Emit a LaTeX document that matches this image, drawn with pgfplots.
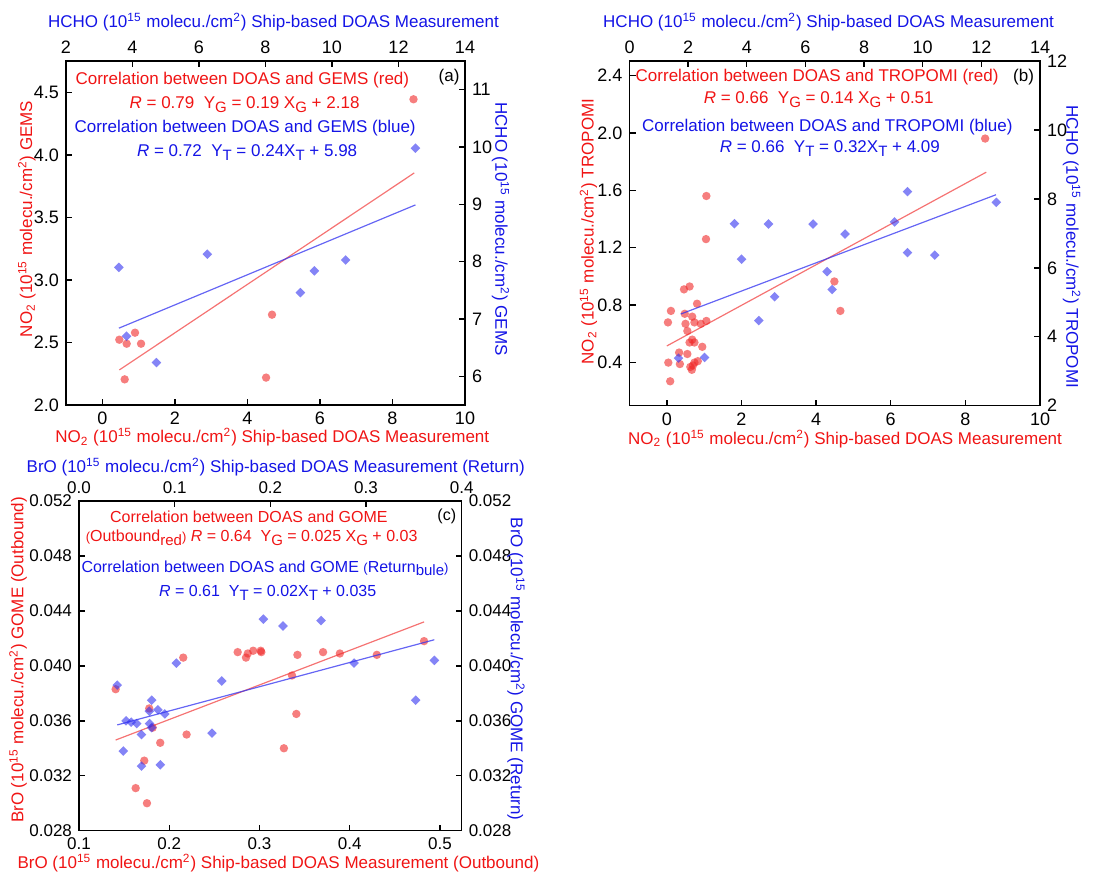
\documentclass[border=0pt]{standalone}
\usepackage{fontspec}
\setmainfont{Liberation Sans}
\usepackage{pgfplots}
\pgfplotsset{compat=1.18}
\definecolor{txtred}{RGB}{240,20,20}
\definecolor{txtblue}{RGB}{20,20,230}
\definecolor{ptred}{RGB}{240,40,40}
\definecolor{ptblue}{RGB}{50,50,240}
\newcommand{\sub}[1]{\raisebox{-0.45ex}{\fontsize{7.5}{8}\selectfont #1}}
\newcommand{\sm}[1]{{\fontsize{6.5}{7}\selectfont #1}}
\newcommand{\uu}{(10\textsuperscript{15} molecu./cm\textsuperscript{2})}

\pgfplotsset{
  base/.style={
    scale only axis,
    font=\fontsize{8.5}{10}\selectfont,
    tick label style={font=\fontsize{9}{10}\selectfont, black},
    every axis label/.append style={inner sep=0pt},
    /pgf/number format/assume math mode=true,
    tick align=inside,
    major tick length=3pt,
    axis line style={line width=0.7pt},
    every tick/.style={black, line width=0.7pt},
    minor tick num=0,
  },
  redpts/.style={only marks, color=ptred, mark=*, mark size=2.1pt,
    mark options={draw opacity=0, fill=ptred, fill opacity=0.6}},
  bluepts/.style={only marks, color=ptblue, mark=square*, mark size=1.7pt,
    mark options={draw opacity=0, fill=ptblue, fill opacity=0.6, rotate=45}},
  redfit/.style={no marks, color=ptred, opacity=0.65, line width=0.6pt},
  bluefit/.style={no marks, color=ptblue, opacity=0.75, line width=0.6pt},
}

\begin{document}
\begin{tikzpicture}
\useasboundingbox (0,0) rectangle (551pt,437pt);

% ---------------- (a) ----------------
\begin{axis}[base, at={(33pt,234.5pt)}, width=199.5pt, height=172pt,
  xmin=-1, xmax=10, ymin=2, ymax=4.75,
  xtick={0,2,...,10}, ytick={2,2.5,3,3.5,4,4.5},
  xtick pos=bottom, ytick pos=left,
  yticklabel style={/pgf/number format/.cd, fixed, fixed zerofill, precision=1},
  xlabel={NO\textsubscript{2} \uu{} Ship-based DOAS Measurement},
  ylabel={NO\textsubscript{2} \uu{} GEMS},
  xlabel style={at={(axis description cs:0.517,-0.094)}, anchor=center, text=txtred},
  ylabel style={at={(axis description cs:-0.098,0.541)}, anchor=center, text=txtred},
]
\addplot[redpts] coordinates {
  (0.47,2.522) (0.673,2.49) (0.903,2.578) (1.069,2.49) (0.618,2.205)
  (4.68,2.722) (4.516,2.219) (8.58,4.444)
};
\addplot[redfit] coordinates {(0.47,2.28) (8.6,3.855)};
\node[txtred] at (rel axis cs:0.442,0.945) {Correlation between DOAS and GEMS (red)};
\node[txtred] at (rel axis cs:0.4475,0.874) {\textit{R} = 0.79\ \ Y\sub{G} = 0.19 X\sub{G} + 2.18};
\node[txtblue] at (rel axis cs:0.449,0.805) {Correlation between DOAS and GEMS (blue)};
\node[txtblue] at (rel axis cs:0.454,0.735) {\textit{R} = 0.72\ \ Y\sub{T} = 0.24X\sub{T} + 5.98};
\node[black] at (rel axis cs:0.96,0.953) {(a)};
\end{axis}
\begin{axis}[base, at={(33pt,234.5pt)}, width=199.5pt, height=172pt,
  xmin=2, xmax=14, ymin=5.5, ymax=11.5,
  xtick={2,4,...,14}, ytick={6,...,11},
  xtick pos=top, ytick pos=right, xticklabel pos=top, yticklabel pos=right,
  xlabel={HCHO \uu{} Ship-based DOAS Measurement},
  ylabel={HCHO \uu{} GEMS},
  xlabel style={at={(axis description cs:0.52,1.113)}, anchor=center, text=txtblue},
  ylabel style={at={(axis description cs:1.089,0.512)}, anchor=center, rotate=180, text=txtblue},
]
\addplot[bluepts] coordinates {
  (3.59,7.90) (3.82,6.70) (4.72,6.24) (6.25,8.13) (9.05,7.46)
  (9.47,7.84) (10.41,8.03) (12.51,9.98)
};
\addplot[bluefit] coordinates {(3.59,6.84) (12.51,8.99)};
\end{axis}

% ---------------- (b) ----------------
\begin{axis}[base, at={(314.75pt,234.15pt)}, width=205.25pt, height=172.35pt,
  xmin=-1, xmax=10, ymin=0.1, ymax=2.5,
  xtick={0,2,...,10}, ytick={0.4,0.8,1.2,1.6,2.0,2.4},
  xtick pos=bottom, ytick pos=left,
  yticklabel style={/pgf/number format/.cd, fixed, fixed zerofill, precision=1},
  xlabel={NO\textsubscript{2} \uu{} Ship-based DOAS Measurement},
  ylabel={NO\textsubscript{2} \uu{} TROPOMI},
  xlabel style={at={(axis description cs:0.525,-0.096)}, anchor=center, text=txtred},
  ylabel style={at={(axis description cs:-0.1,0.505)}, anchor=center, text=txtred},
]
\addplot[redpts] coordinates {
  (1.06,1.56) (1.05,1.26) (0.46,0.91) (0.61,0.93) (0.81,0.81) (0.11,0.76)
  (0.03,0.68) (0.48,0.74) (0.68,0.72) (0.50,0.67) (0.74,0.68) (0.91,0.67)
  (1.06,0.69) (0.55,0.62) (0.68,0.56) (0.61,0.54) (0.74,0.54) (0.95,0.51)
  (0.33,0.47) (0.55,0.46) (0.04,0.40) (0.35,0.39) (0.63,0.37) (0.67,0.35)
  (0.74,0.40) (0.83,0.41) (0.70,0.38) (0.09,0.27)
  (8.53,1.96) (4.49,0.965) (4.65,0.76)
};
\addplot[redfit] coordinates {(0,0.516) (8.56,1.726)};
\node[txtred] at (rel axis cs:0.457,0.952) {Correlation between DOAS and TROPOMI (red)};
\node[txtred] at (rel axis cs:0.461,0.889) {\textit{R} = 0.66\ \ Y\sub{G} = 0.14 X\sub{G} + 0.51};
\node[txtblue] at (rel axis cs:0.482,0.808) {Correlation between DOAS and TROPOMI (blue)};
\node[txtblue] at (rel axis cs:0.488,0.745) {\textit{R} = 0.66\ \ Y\sub{T} = 0.32X\sub{T} + 4.09};
\node[black] at (rel axis cs:0.96,0.952) {(b)};
\end{axis}
\begin{axis}[base, at={(314.75pt,234.15pt)}, width=205.25pt, height=172.35pt,
  xmin=0, xmax=14, ymin=2, ymax=12,
  xtick={0,2,...,14}, ytick={2,4,...,12},
  xtick pos=top, ytick pos=right, xticklabel pos=top, yticklabel pos=right,
  xlabel={HCHO \uu{} Ship-based DOAS Measurement},
  ylabel={HCHO \uu{} TROPOMI},
  xlabel style={at={(axis description cs:0.485,1.113)}, anchor=center, text=txtblue},
  ylabel style={at={(axis description cs:1.077,0.461)}, anchor=center, rotate=180, text=txtblue},
]
\addplot[bluepts] coordinates {
  (1.67,3.38) (2.56,3.40) (3.58,7.28) (3.82,6.25) (4.41,4.47) (4.74,7.27)
  (4.95,5.16) (6.26,7.27) (6.74,5.89) (6.91,5.37) (7.35,6.98) (9.04,7.33)
  (9.48,8.21) (9.48,6.44) (10.41,6.37) (12.51,7.90)
};
\addplot[bluefit] coordinates {(1.75,4.66) (12.5,8.12)};
\end{axis}

% ---------------- (c) ----------------
\begin{axis}[base, at={(39.5pt,21.65pt)}, width=191.35pt, height=164.85pt,
  tick label style={font=\fontsize{8.5}{10}\selectfont},
  xmin=0.1, xmax=0.524, ymin=0.028, ymax=0.052,
  xtick={0.1,0.2,0.3,0.4,0.5}, ytick={0.028,0.032,...,0.052},
  xtick pos=bottom, ytick pos=left,
  xticklabel style={/pgf/number format/.cd, fixed, fixed zerofill, precision=1},
  yticklabel style={/pgf/number format/.cd, fixed, fixed zerofill, precision=3},
  scaled ticks=false,
  xlabel={BrO \uu{} Ship-based DOAS Measurement (Outbound)},
  ylabel={BrO \uu{} GOME (Outbound)},
  xlabel style={at={(axis description cs:0.521,-0.099)}, anchor=center, text=txtred},
  ylabel style={at={(axis description cs:-0.159,0.518)}, anchor=center, text=txtred},
]
\addplot[redpts] coordinates {
  (0.1406,0.0383) (0.1778,0.0369) (0.1816,0.0355) (0.1900,0.0344) (0.1723,0.0331)
  (0.1628,0.0311) (0.1753,0.0300) (0.2155,0.0406) (0.2192,0.0350) (0.2758,0.0410)
  (0.2850,0.0406) (0.2870,0.0409) (0.2930,0.0411) (0.3013,0.0411) (0.3020,0.0410)
  (0.3270,0.0340) (0.3360,0.0393) (0.3420,0.0408) (0.3408,0.0365) (0.3704,0.0410)
  (0.3890,0.0409) (0.4300,0.0408) (0.4823,0.0418)
};
\addplot[redfit] coordinates {(0.1406,0.0346) (0.4823,0.0432)};
\begin{scope}[font=\fontsize{8}{9.5}\selectfont]
\node[txtred] at (rel axis cs:0.444,0.952) {Correlation between DOAS and GOME};
\node[txtred] at (rel axis cs:0.451,0.889) {\sm{(}Outbound\sub{red}\sm{)} \textit{R} = 0.64\ \ Y\sub{G} = 0.025 X\sub{G} + 0.03};
\node[txtblue] at (rel axis cs:0.486,0.796) {Correlation between DOAS and GOME \sm{(}Return\sub{bule}\sm{)}};
\node[txtblue] at (rel axis cs:0.493,0.722) {\textit{R} = 0.61\ \ Y\sub{T} = 0.02X\sub{T} + 0.035};
\node[black] at (rel axis cs:0.961,0.952) {(c)};
\end{scope}
\end{axis}
\begin{axis}[base, at={(39.5pt,21.65pt)}, width=191.35pt, height=164.85pt,
  tick label style={font=\fontsize{8.5}{10}\selectfont},
  xmin=0, xmax=0.4, ymin=0.028, ymax=0.052,
  xtick={0,0.1,...,0.4}, ytick={0.028,0.032,...,0.052},
  xtick pos=top, ytick pos=right, xticklabel pos=top, yticklabel pos=right,
  xticklabel style={/pgf/number format/.cd, fixed, fixed zerofill, precision=1},
  yticklabel style={/pgf/number format/.cd, fixed, fixed zerofill, precision=3},
  scaled ticks=false,
  xlabel={BrO \uu{} Ship-based DOAS Measurement (Return)},
  ylabel={BrO \uu{} GOME (Return)},
  xlabel style={at={(axis description cs:0.514,1.102)}, anchor=center, text=txtblue},
  ylabel style={at={(axis description cs:1.142,0.49)}, anchor=center, rotate=180, text=txtblue},
]
\addplot[bluepts] coordinates {
  (0.040,0.0386) (0.1018,0.0402) (0.0492,0.0360) (0.0545,0.0359) (0.0603,0.0358)
  (0.0653,0.0350) (0.0463,0.0338) (0.0653,0.0327) (0.0760,0.0375) (0.0735,0.0367)
  (0.0825,0.0368) (0.0897,0.0365) (0.0737,0.0358) (0.0760,0.0355) (0.0850,0.0328)
  (0.1390,0.0351) (0.1492,0.0389) (0.1927,0.0434) (0.2132,0.0429) (0.2530,0.0433)
  (0.2875,0.0402) (0.3519,0.0375) (0.3714,0.0404)
};
\addplot[bluefit] coordinates {(0.040,0.0357) (0.3714,0.0419)};
\end{axis}
\end{tikzpicture}
\end{document}
